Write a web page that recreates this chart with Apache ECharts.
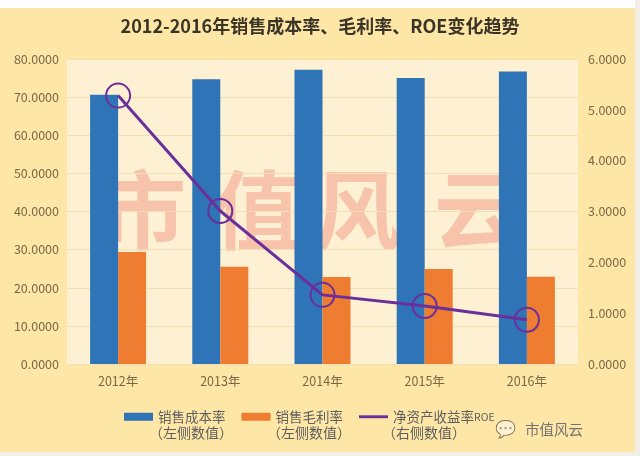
<!DOCTYPE html>
<html><head><meta charset="utf-8">
<script src="https://cdn.jsdelivr.net/npm/echarts@6/dist/echarts.min.js"></script>
<style>html,body{margin:0;padding:0;background:#fff}#c{width:640px;height:456px}</style>
</head><body><div id="c"></div>
<script>
var categories = ['2012年','2013年','2014年','2015年','2016年'];
var costRate = [70.6, 74.7, 77.2, 75.0, 76.7];
var grossRate = [29.4, 25.5, 22.8, 24.9, 22.9];
var roe = [5.28, 3.01, 1.36, 1.14, 0.87];
var seriesNames = ['销售成本率', '销售毛利率', '净资产收益率ROE'];
var legendSub = ['（左侧数值）', '（左侧数值）', '（右侧数值）'];
var title = '2012-2016年销售成本率、毛利率、ROE变化趋势';
var watermark = ['市', '值', '风', '云'];

var chart = echarts.init(document.getElementById('c'));
var font = '"Noto Sans CJK SC", "Noto Sans", sans-serif';
var axisLabel = {color: '#7a6845', fontSize: 12.5, fontFamily: font, formatter: function(v){return v.toFixed(4);}};
var wmX = [143, 257, 357, 477];
var graphics = [
  {type: 'rect', shape: {x: 0, y: 0, width: 640, height: 8}, style: {fill: '#ffffff'}, z: -10},
  {type: 'rect', shape: {x: 0, y: 452, width: 640, height: 4}, style: {fill: '#f2efe8'}, z: -10},
  {type: 'rect', shape: {x: 635, y: 0, width: 5, height: 456}, style: {fill: '#f2efe8'}, z: -10},
  {type: 'rect', shape: {x: 67, y: 59, width: 511, height: 305}, style: {fill: '#fdf0d3'}, z: -9}
];
watermark.forEach(function(ch, i){
  graphics.push({type: 'text', x: wmX[i], y: 210, z: -5,
    style: {text: ch, fill: 'rgba(240,140,120,0.45)', font: 'bold 86px "Noto Sans CJK SC"', textAlign: 'center', textVerticalAlign: 'middle'}});
});
var subX = [149, 267, 382];
legendSub.forEach(function(t, i){
  graphics.push({type: 'text', x: subX[i], y: 433, style: {text: t, fill: '#5f5f5f', font: '14px "Noto Sans CJK SC"', textVerticalAlign: 'middle'}});
});
graphics.push({type: 'text', x: 505, y: 429, style: {text: '💬', fill: '#9a9a9a', font: '17px "Noto Sans CJK SC"', textAlign: 'center', textVerticalAlign: 'middle', opacity: 0.5}});
graphics.push({type: 'text', x: 525, y: 429, style: {text: '市值风云', fill: '#737373', font: '14.5px "Noto Sans CJK SC"', textVerticalAlign: 'middle'}});

chart.setOption({
  backgroundColor: '#fde6a6',
  animation: false,
  title: {text: title, left: 'center', top: 12, textStyle: {fontFamily: font, fontSize: 18, fontWeight: 'bold', color: '#3b3528'}},
  grid: {left: 67, right: 62, top: 59, bottom: 92},
  legend: {
    left: 119, top: 405, itemGap: 16, itemWidth: 29, itemHeight: 8,
    textStyle: {fontFamily: font, fontSize: 13.5, color: '#5f5f5f',
      rich: {a: {fontFamily: font, fontSize: 13.5, color: '#5f5f5f'}, b: {fontFamily: font, fontSize: 10.5, color: '#5f5f5f'}}},
    formatter: function(n){
      if (n.indexOf('ROE') >= 0) return '{a|' + n.replace('ROE', '') + '}{b|ROE}';
      return '{a|' + n + '}';
    },
    data: [
      {name: seriesNames[0], icon: 'rect'},
      {name: seriesNames[1], icon: 'rect'},
      {name: seriesNames[2], icon: 'path://M0,0 L10,0 L10,1 L0,1 Z', itemStyle: {color: '#6a2f9a', borderWidth: 0}}
    ]
  },
  graphic: graphics,
  xAxis: {type: 'category', data: categories,
    axisLine: {show: false}, axisTick: {show: false},
    axisLabel: {color: '#7a6845', fontSize: 12.5, fontFamily: font, margin: 11}},
  yAxis: [
    {type: 'value', min: 0, max: 80, interval: 10, position: 'left',
     axisLabel: axisLabel, axisLine: {show: false}, axisTick: {show: false},
     splitLine: {lineStyle: {color: '#f1dfb8', width: 1}}},
    {type: 'value', min: 0, max: 6, interval: 1, position: 'right',
     axisLabel: Object.assign({}, axisLabel, {margin: 10}), axisLine: {show: false}, axisTick: {show: false},
     splitLine: {show: false}}
  ],
  series: [
    {name: seriesNames[0], type: 'bar', data: costRate, barWidth: 28, barGap: '0%', itemStyle: {color: '#2e74b7'}},
    {name: seriesNames[1], type: 'bar', data: grossRate, barWidth: 28, itemStyle: {color: '#ee7d31'}},
    {name: seriesNames[2], type: 'line', yAxisIndex: 1, data: roe, symbol: 'circle', symbolSize: 24,
     lineStyle: {color: '#6a2f9a', width: 3},
     itemStyle: {color: 'rgba(0,0,0,0)', borderColor: '#6a2f9a', borderWidth: 2}, z: 5}
  ]
});
</script></body></html>
